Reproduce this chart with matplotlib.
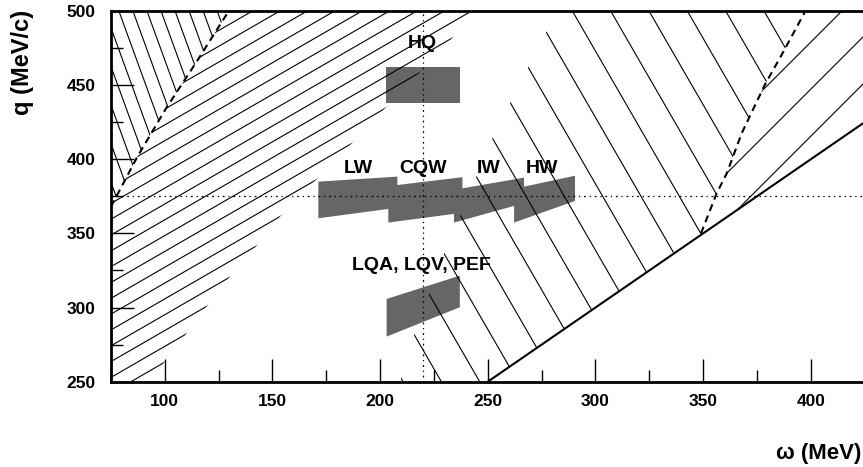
import numpy as np
import matplotlib
matplotlib.use('Agg')
import matplotlib.pyplot as plt
from matplotlib.patches import Polygon
from matplotlib.collections import LineCollection

plt.rcParams['font.family'] = ['Liberation Sans', 'DejaVu Sans']
plt.rcParams['font.weight'] = 'bold'

# kinematic boundaries, omega (MeV) vs q (MeV/c)
d1_w = [75, 87.2, 100.7, 115.4, 129.7]            # left dashed curve
d1_q = [368, 401.6, 434.6, 467.2, 500]
c1_w = [93, 100, 109.8, 119.4, 130, 142.2, 153.5, 185, 200, 216.7, 233, 243.5]
c1_q = [250, 263.5, 282, 300.6, 320.4, 341, 361.3, 408, 431, 456, 481, 500]
c2_w = [209.2, 210.6, 216.7, 230.5, 237.9, 245, 252.4, 260.6, 268.7, 277, 282.5]
c2_q = [250, 256.6, 285.6, 339.5, 364.5, 389.4, 415, 438.6, 461.8, 485.4, 500]
d2_w = [349, 356.3, 361, 367.9, 378.6, 387.3, 397.5]   # right dashed curve
d2_q = [350, 377.1, 390.6, 417.5, 450.1, 472.6, 500]
diag_w = [250, 425]                                  # q = omega
diag_q = [250, 425]

# measured kinematic settings
hq_w = [202.7, 237.1, 237.1, 202.7]
hq_q = [438, 438, 462.2, 462.2]
lw_w = [171.3, 208, 208, 171.3]
lw_q = [360.2, 367.3, 388.3, 384.9]
cqw_w = [203.8, 238.2, 238.2, 203.8]
cqw_q = [357.3, 363.9, 387.9, 381.9]
iw_w = [234.3, 266.8, 266.8, 234.3]
iw_q = [357.3, 370.4, 387.6, 379.4]
hw_w = [262.2, 290.5, 290.5, 262.2]
hw_q = [357.3, 371.9, 388.9, 380.1]
lqa_w = [203, 237, 237, 203]
lqa_q = [280.4, 300.2, 321.5, 305.8]

w_ref = 220   # dotted reference lines
q_ref = 375

fig = plt.figure(figsize=(8.63, 4.67), dpi=100)
ax = fig.add_axes([0.1286, 0.1827, 0.8733, 0.7938])
ax.set_xlim(75, 425)
ax.set_ylim(250, 500)

bb = ax.get_window_extent()
W, H = bb.width, bb.height


def hatch(verts, angle, spacing, offset):
    patch = Polygon(verts, closed=True, facecolor='none', edgecolor='none',
                    transform=ax.transData)
    ax.add_patch(patch)
    a = np.deg2rad(angle)
    d = np.array([np.cos(a), np.sin(a)])
    n = np.array([-np.sin(a), np.cos(a)])
    proj = np.array([[0, 0], [W, 0], [0, H], [W, H]]) @ n
    k0 = int(np.floor((proj.min() - offset) / spacing)) - 1
    k1 = int(np.ceil((proj.max() - offset) / spacing)) + 1
    segs = []
    for k in range(k0, k1 + 1):
        c = n * (offset + k * spacing)
        p0 = (c - d * (W + H)) / [W, H]
        p1 = (c + d * (W + H)) / [W, H]
        segs.append([p0, p1])
    lc = LineCollection(segs, transform=ax.transAxes, colors='k',
                        linewidths=0.8, zorder=2)
    ax.add_collection(lc, autolim=False)
    lc.set_clip_path(patch)


# gray boxes
for bw, bq in [(hq_w, hq_q), (lw_w, lw_q), (cqw_w, cqw_q), (iw_w, iw_q),
               (hw_w, hw_q), (lqa_w, lqa_q)]:
    ax.add_patch(Polygon(np.column_stack([bw, bq]), closed=True,
                         facecolor='#666666', edgecolor='none', zorder=1))

# hatched regions
r1 = [(75, 250)] + list(zip(d1_w, d1_q)) + list(zip(c1_w, c1_q))[::-1]
r2 = list(zip(d1_w, d1_q)) + [(75, 500)]
r3 = list(zip(c2_w, c2_q)) + list(zip(d2_w, d2_q))[::-1] + [(250, 250)]
r4 = list(zip(d2_w, d2_q)) + [(425, 500), (425, 425)]
hatch(r1, 30, 13.7, -10)
hatch(r2, -70, 13.2, 160.6)
hatch(r3, -60, 33.2, 518.5)
hatch(r4, 45, 33.3, -288)

# boundary lines
ax.plot(diag_w, diag_q, color='k', lw=1.5, zorder=3)
ax.plot(d1_w, d1_q, color='k', lw=1.5, ls=(0, (3.4, 2.4)), zorder=3)
ax.plot(d2_w, d2_q, color='k', lw=1.5, ls=(0, (3.4, 2.4)), zorder=3)
ax.axhline(q_ref, color='k', lw=0.9, ls=(0, (1, 3, 1.5, 3)), zorder=3)
ax.axvline(w_ref, color='k', lw=0.9, ls=(0, (1, 3, 1.5, 3)), zorder=3)

# labels
kw = dict(fontsize=14, ha='center', va='baseline', zorder=4)
ax.text(219.8, 475.0, 'HQ', **kw)
ax.text(189.7, 390.6, 'LW', **kw)
ax.text(219.8, 390.6, 'CQW', **kw)
ax.text(250.2, 390.6, 'IW', **kw)
ax.text(275.0, 390.6, 'HW', **kw)
ax.text(219.3, 325.3, 'LQA, LQV, PEF', **kw)

# axes styling
for s in ax.spines.values():
    s.set_linewidth(2)
ax.set_xticks(np.arange(100, 401, 50))
ax.set_xticks(np.arange(75, 426, 25), minor=True)
ax.set_yticks(np.arange(250, 501, 50))
ax.set_yticks(np.arange(275, 476, 50), minor=True)
ax.tick_params(which='both', direction='in', width=1.0)
ax.tick_params(which='major', length=16.5, labelsize=12.5)
ax.tick_params(which='minor', length=8.5)
ax.tick_params(axis='x', pad=9)
ax.tick_params(axis='y', pad=11)

fig.text(0.026, 0.866, 'q (MeV/c)', rotation=90, ha='center', va='center',
         fontsize=17)
fig.text(0.899, 0.0171, 'ω (MeV)', ha='left', va='baseline', fontsize=16)

fig.savefig('out.png', dpi=100)
